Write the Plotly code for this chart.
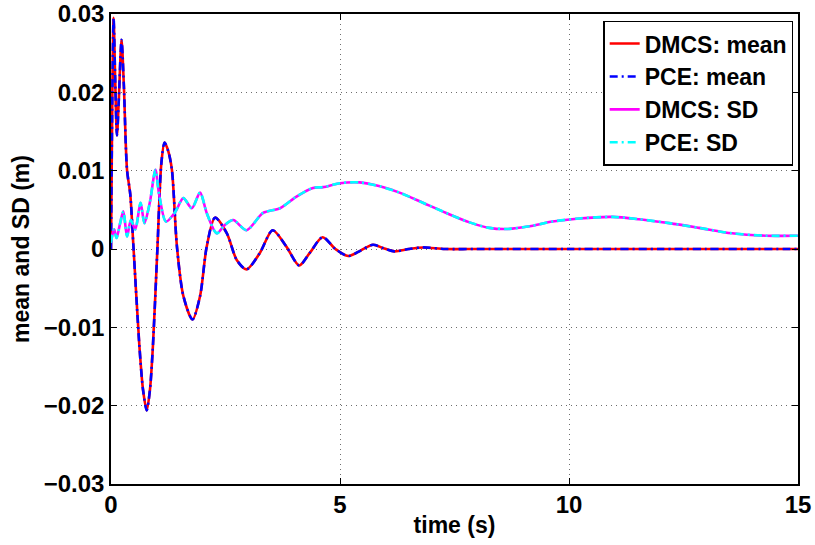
import plotly.graph_objects as go

# ---- data ----
t_mean = [0, 0.03, 0.057, 0.09, 0.13, 0.17, 0.23, 0.28, 0.35, 0.42, 0.49, 0.62, 0.70, 0.78,
          0.85, 0.915, 1.015, 1.10, 1.17, 1.25, 1.33, 1.44, 1.58, 1.78, 1.945, 2.09, 2.27,
          2.53, 2.745, 2.96, 3.25, 3.53, 3.83, 4.11, 4.34, 4.62, 4.90, 5.18, 5.45, 5.72,
          5.95, 6.19, 6.50, 6.81, 7.30, 8.0, 9.0, 10.0, 11.0, 12.0, 13.0, 14.0, 15.0]
mean_dmcs = [0.0, 0.020, 0.0295, 0.022, 0.0145, 0.019, 0.0267, 0.021, 0.0101, 0.0070, 0.0003,
             -0.0124, -0.0180, -0.0206, -0.0180, -0.0124, 0.0003, 0.0110, 0.0136, 0.0125,
             0.0101, 0.0003, -0.0060, -0.0090, -0.0060, 0.0003, 0.0040, 0.0020, -0.0014,
             -0.0026, -0.0005, 0.0024, 0.0003, -0.0021, -0.0005, 0.0015, 0.0000, -0.0009,
             -0.0002, 0.00055, 0.0001, -0.0003, 0.0, 0.0002, 0.0, 0.0, 0.0, 0.0, 0.0, 0.0,
             0.0, 0.0, 0.0]
mean_pce = list(mean_dmcs)

t_sd = [0, 0.03, 0.07, 0.12, 0.20, 0.27, 0.35, 0.435, 0.53, 0.645, 0.73, 0.85, 0.97, 1.05,
        1.20, 1.40, 1.58, 1.765, 1.945, 2.09, 2.31, 2.49, 2.67, 2.96, 3.32, 3.69, 4.05,
        4.41, 4.63, 5.0, 5.43, 5.87, 6.30, 6.81, 7.32, 7.83, 8.26, 8.63, 9.14, 9.64,
        10.22, 10.95, 11.53, 12.19, 12.84, 13.56, 14.29, 15.0]
sd_dmcs = [0.0008, 0.0018, 0.0025, 0.0014, 0.0033, 0.0048, 0.0016, 0.0037, 0.0025, 0.0059,
           0.0033, 0.0060, 0.0101, 0.0070, 0.0035, 0.0047, 0.0065, 0.0052, 0.0072, 0.0046,
           0.0020, 0.0031, 0.0037, 0.0024, 0.0046, 0.0052, 0.0067, 0.0078, 0.0079, 0.0084,
           0.0085, 0.0080, 0.0072, 0.0059, 0.0046, 0.0034, 0.0027, 0.00255, 0.0029, 0.0035,
           0.0039, 0.0041, 0.0038, 0.0033, 0.0027, 0.0020, 0.0017, 0.0017]
sd_pce = list(sd_dmcs)

names = ["DMCS: mean", "PCE: mean", "DMCS: SD", "PCE: SD"]
colors = ["#ff0000", "#0000ff", "#ff00ff", "#00ffff"]

FONT = "Liberation Sans, Arial, Helvetica, sans-serif"

fig = go.Figure()
series = [(t_mean, mean_dmcs, "solid"), (t_mean, mean_pce, "8px,4px,2px,4px"),
          (t_sd, sd_dmcs, "solid"), (t_sd, sd_pce, "8px,4px,2px,4px")]
for (tx, vy, dash), nm, col in zip(series, names, colors):
    fig.add_trace(go.Scatter(x=tx, y=vy, mode="lines", name=nm,
                             line=dict(color=col, width=2.6, dash=dash,
                                       shape="spline", smoothing=0.8)))

axis_common = dict(showline=True, linecolor="black", linewidth=1.5, mirror="ticks",
                   ticks="inside", ticklen=6, tickcolor="black", showgrid=True,
                   gridcolor="#6e6e6e", griddash="1px,4px", gridwidth=1, zeroline=False,
                   automargin=False, ticklabeloverflow="allow",
                   tickfont=dict(family=FONT, size=24, color="black", weight="bold"))

fig.update_xaxes(range=[0, 15], dtick=5, tick0=0, ticklabelstandoff=-2,
                 title=dict(text="time (s)", standoff=0,
                            font=dict(family=FONT, size=23, color="black", weight="bold")),
                 **axis_common)
fig.update_yaxes(range=[-0.03, 0.03], dtick=0.01, tick0=0,
                 title=dict(text="mean and SD (m)", standoff=8,
                            font=dict(family=FONT, size=23, color="black", weight="bold")),
                 **axis_common)

fig.update_layout(
    width=815, height=545,
    margin=dict(l=111, r=17, t=14, b=61),
    paper_bgcolor="white", plot_bgcolor="white",
    showlegend=True,
    legend=dict(x=0.993, y=0.986, xanchor="right", yanchor="top",
                bgcolor="white", bordercolor="black", borderwidth=1.5,
                font=dict(family=FONT, size=23, color="black", weight="bold"),
                tracegroupgap=0, itemwidth=30),
)

# remove the browser's default 8px page margin so the figure fills the window exactly
fig.write_html("out.html", config={"displayModeBar": False},
               post_script="document.body.style.margin='0';")
